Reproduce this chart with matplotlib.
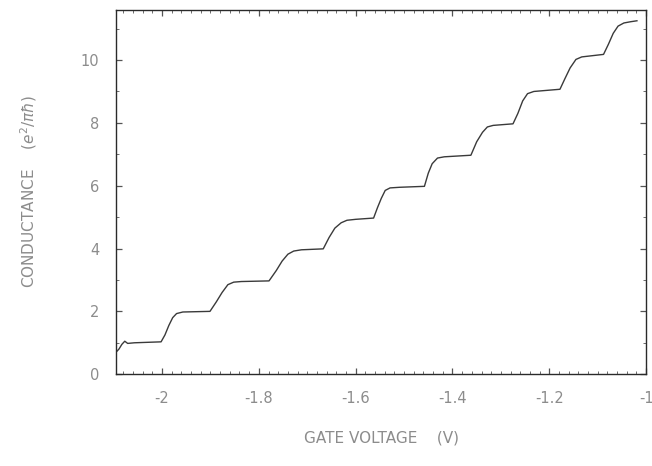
import numpy as np
import matplotlib
matplotlib.use('Agg')
import matplotlib.pyplot as plt
from matplotlib.ticker import MultipleLocator

# gate voltage (V) and conductance (e^2/pi hbar)
voltage = [-2.095, -2.089, -2.083, -2.077, -2.071, -2.057, -2.002,
           -1.994, -1.986, -1.978, -1.970, -1.957, -1.901,
           -1.888, -1.876, -1.864, -1.852, -1.836, -1.779,
           -1.764, -1.752, -1.740, -1.728, -1.712, -1.667,
           -1.655, -1.643, -1.630, -1.618, -1.600, -1.563,
           -1.555, -1.547, -1.539, -1.529, -1.509, -1.458,
           -1.450, -1.442, -1.431, -1.417, -1.362,
           -1.350, -1.338, -1.328, -1.316, -1.275,
           -1.265, -1.255, -1.245, -1.232, -1.178,
           -1.168, -1.157, -1.145, -1.133, -1.088,
           -1.078, -1.068, -1.058, -1.046, -1.032, -1.019]
conductance = [0.70, 0.80, 0.95, 1.05, 0.98, 1.00, 1.03,
               1.25, 1.55, 1.80, 1.93, 1.98, 2.00,
               2.30, 2.60, 2.85, 2.93, 2.95, 2.97,
               3.30, 3.60, 3.82, 3.92, 3.96, 3.99,
               4.35, 4.65, 4.82, 4.90, 4.93, 4.97,
               5.30, 5.60, 5.85, 5.93, 5.95, 5.98,
               6.40, 6.70, 6.88, 6.92, 6.97,
               7.40, 7.70, 7.87, 7.92, 7.97,
               8.30, 8.70, 8.93, 9.00, 9.07,
               9.40, 9.75, 10.02, 10.10, 10.18,
               10.50, 10.85, 11.08, 11.18, 11.22, 11.25]

xticks = [-2.0, -1.8, -1.6, -1.4, -1.2, -1.0]
xticklabels = ['-2', '-1.8', '-1.6', '-1.4', '-1.2', '-1']
yticks = [0, 2, 4, 6, 8, 10]

txt = '#8c8c8c'
plt.rcParams['font.family'] = ['Liberation Sans Narrow', 'DejaVu Sans']

fig = plt.figure(figsize=(6.52, 4.66), dpi=100)
ax = fig.add_axes([0.178, 0.197, 0.813, 0.782])

ax.plot(voltage, conductance, color='#3a3a3a', lw=1.0)

ax.set_xlim(-2.095, -1.019)
ax.set_ylim(0, 11.6)
ax.set_xticks(xticks)
ax.set_xticklabels(xticklabels)
ax.set_yticks(yticks)
ax.xaxis.set_minor_locator(MultipleLocator(0.02))
ax.yaxis.set_minor_locator(MultipleLocator(1))

ax.tick_params(which='both', direction='in', top=True, right=True,
               colors='#555555', labelcolor=txt, labelsize=10.5)
ax.tick_params(which='major', length=4, width=0.9)
ax.tick_params(which='minor', length=2, width=0.6)
ax.tick_params(axis='x', pad=12)
ax.tick_params(axis='y', pad=12)

for s in ax.spines.values():
    s.set_color('#2a2a2a')
    s.set_linewidth(1.0)

ax.set_xlabel('GATE VOLTAGE    (V)', color=txt, fontsize=11, labelpad=18)
ax.set_ylabel('CONDUCTANCE    ($e^2/\\pi\\hbar$)', color=txt, fontsize=11,
              labelpad=30)

plt.savefig('out.png', dpi=100)
